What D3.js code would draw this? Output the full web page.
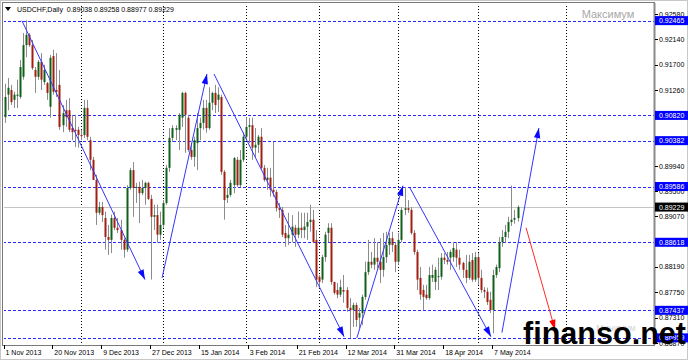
<!DOCTYPE html>
<html>
<head>
<meta charset="utf-8">
<script src="https://cdn.jsdelivr.net/npm/d3@7"></script>
<style>
  body { margin: 0; background: #fff; }
  text { font-family: "Liberation Sans", Arial, sans-serif; }
</style>
</head>
<body>
<svg id="chart" width="688" height="360"></svg>
<script>
// USDCHF daily bars (one value per bar)
var opens = [
  0.9079,0.9118,0.9126,0.9109,0.9116,0.9114,0.9149,0.9204,0.9222,0.9204,
  0.9161,0.9149,0.9175,0.9140,0.9138,0.9097,0.9185,0.9126,0.9135,0.9065,
  0.9091,0.9091,0.9060,0.9057,0.9057,0.9048,0.9048,0.9095,0.9039,0.9005,
  0.8970,0.8913,0.8923,0.8904,0.8871,0.8866,0.8904,0.8887,0.8883,0.8866,
  0.8849,0.8956,0.8987,0.8956,0.8958,0.8947,0.8956,0.8965,0.8937,0.8906,
  0.8909,0.8875,0.8892,0.8930,0.8991,0.9043,0.9057,0.9057,0.9078,0.9121,
  0.9078,0.9022,0.9010,0.9034,0.9060,0.9069,0.9095,0.9060,0.9104,0.9121,
  0.9109,0.9114,0.8984,0.8939,0.8944,0.8961,0.9005,0.8961,0.9005,0.9045,
  0.9062,0.9065,0.9026,0.9031,0.9045,0.8991,0.8970,0.8974,0.8953,0.8949,
  0.8921,0.8918,0.8878,0.8869,0.8875,0.8887,0.8875,0.8887,0.8883,0.8889,
  0.8897,0.8901,0.8866,0.8802,0.8797,0.8836,0.8878,0.8887,0.8793,0.8779,
  0.8771,0.8779,0.8779,0.8748,0.8744,0.8753,0.8731,0.8739,0.8767,0.8810,
  0.8828,0.8823,0.8835,0.8828,0.8814,0.8836,0.8857,0.8869,0.8857,0.8828,
  0.8866,0.8918,0.8921,0.8918,0.8878,0.8845,0.8800,0.8779,0.8771,0.8765,
  0.8800,0.8793,0.8802,0.8802,0.8835,0.8831,0.8835,0.8836,0.8849,0.8835,
  0.8826,0.8814,0.8800,0.8831,0.8797,0.8836,0.8800,0.8779,0.8776,0.8762,
  0.8744,0.8805,0.8817,0.8862,0.8871,0.8880,0.8897,0.8901,0.89038
];
var highs = [
  0.9137,0.9147,0.9135,0.9123,0.9144,0.9178,0.9225,0.9247,0.9225,0.9213,
  0.9166,0.9178,0.9190,0.9170,0.9140,0.9187,0.9196,0.9190,0.9161,0.9100,
  0.9109,0.9112,0.9083,0.9083,0.9062,0.9057,0.9109,0.9109,0.9045,0.9010,
  0.8979,0.8932,0.8932,0.8915,0.8892,0.8910,0.8915,0.8904,0.8901,0.8869,
  0.8961,0.8991,0.9001,0.8965,0.8967,0.8970,0.8967,0.8967,0.8944,0.8927,
  0.8927,0.8915,0.8935,0.8996,0.9060,0.9065,0.9065,0.9086,0.9123,0.9123,
  0.9083,0.9034,0.9045,0.9086,0.9078,0.9109,0.9109,0.9131,0.9123,0.9135,
  0.9131,0.9118,0.8987,0.8956,0.8970,0.9010,0.9010,0.9022,0.9053,0.9079,
  0.9078,0.9078,0.9060,0.9048,0.9060,0.8996,0.8991,0.8991,0.9036,0.8953,
  0.8930,0.8923,0.8892,0.8913,0.8909,0.8892,0.8915,0.8913,0.8913,0.8913,
  0.8927,0.8918,0.8883,0.8805,0.8840,0.8880,0.8895,0.8895,0.8793,0.8791,
  0.8797,0.8805,0.8784,0.8765,0.8757,0.8757,0.8748,0.8771,0.8828,0.8866,
  0.8845,0.8869,0.8862,0.8869,0.8878,0.8880,0.8878,0.8880,0.8862,0.8878,
  0.8923,0.8958,0.8935,0.8923,0.8883,0.8849,0.8819,0.8788,0.8788,0.8819,
  0.8823,0.8819,0.8835,0.8843,0.8843,0.8845,0.8849,0.8862,0.8862,0.8849,
  0.8828,0.8840,0.8840,0.8843,0.8845,0.8843,0.8814,0.8784,0.8783,0.8776,
  0.8814,0.8823,0.8871,0.8883,0.8892,0.8906,0.8960,0.8918,0.89258
];
var lows = [
  0.9069,0.9091,0.9100,0.9095,0.9095,0.9111,0.9144,0.9183,0.9201,0.9161,
  0.9121,0.9144,0.9126,0.9135,0.9109,0.9078,0.9118,0.9114,0.9057,0.9053,
  0.9062,0.9053,0.9039,0.9027,0.9026,0.9039,0.9043,0.9039,0.8987,0.8970,
  0.8892,0.8909,0.8897,0.8849,0.8840,0.8843,0.8883,0.8878,0.8849,0.8835,
  0.8845,0.8953,0.8906,0.8930,0.8895,0.8944,0.8927,0.8935,0.8797,0.8883,
  0.8861,0.8866,0.8887,0.8927,0.8984,0.9036,0.9039,0.9022,0.9062,0.9017,
  0.9019,0.9005,0.8993,0.8987,0.9039,0.9057,0.9052,0.9057,0.9091,0.9086,
  0.9088,0.8979,0.8901,0.8930,0.8941,0.8947,0.8958,0.8958,0.9001,0.9039,
  0.9034,0.9005,0.9010,0.9017,0.8987,0.8967,0.8953,0.8941,0.8941,0.8915,
  0.8904,0.8871,0.8854,0.8857,0.8862,0.8854,0.8869,0.8869,0.8869,0.8866,
  0.8880,0.8861,0.8784,0.8784,0.8791,0.8828,0.8862,0.8788,0.8771,0.8765,
  0.8767,0.8757,0.8741,0.8696,0.8715,0.8715,0.8713,0.8718,0.8762,0.8805,
  0.8817,0.8814,0.8817,0.8791,0.8802,0.8826,0.8840,0.8845,0.8810,0.8823,
  0.8862,0.8909,0.8913,0.8875,0.8840,0.8779,0.8762,0.8744,0.8762,0.8762,
  0.8793,0.8779,0.8779,0.8797,0.8824,0.8823,0.8814,0.8828,0.8819,0.8814,
  0.8800,0.8791,0.8797,0.8793,0.8793,0.8788,0.8774,0.8765,0.8753,0.8739,
  0.8704,0.8800,0.8810,0.8854,0.8861,0.8869,0.8890,0.8894,0.88977
];
var closes = [
  0.9114,0.9130,0.9105,0.9118,0.9118,0.9166,0.9204,0.9222,0.9204,0.9164,
  0.9149,0.9175,0.9144,0.9161,0.9121,0.9182,0.9123,0.9123,0.9062,0.9086,
  0.9079,0.9057,0.9053,0.9055,0.9048,0.9046,0.9095,0.9045,0.9005,0.8970,
  0.8913,0.8923,0.8909,0.8871,0.8866,0.8904,0.8887,0.8883,0.8866,0.8849,
  0.8956,0.8987,0.8956,0.8958,0.8947,0.8956,0.8965,0.8937,0.8906,0.8909,
  0.8875,0.8892,0.8930,0.8991,0.9043,0.9060,0.9060,0.9083,0.9121,0.9083,
  0.9022,0.9010,0.9039,0.9060,0.9069,0.9095,0.9060,0.9104,0.9121,0.9100,
  0.9118,0.8984,0.8935,0.8944,0.8965,0.9008,0.8961,0.9005,0.9045,0.9062,
  0.9065,0.9026,0.9031,0.9045,0.8991,0.8970,0.8974,0.8953,0.8949,0.8921,
  0.8918,0.8875,0.8869,0.8875,0.8889,0.8875,0.8887,0.8883,0.8889,0.8897,
  0.8901,0.8862,0.8797,0.8793,0.8836,0.8875,0.8887,0.8793,0.8774,0.8771,
  0.8784,0.8776,0.8748,0.8744,0.8753,0.8727,0.8739,0.8767,0.8810,0.8828,
  0.8823,0.8835,0.8828,0.8814,0.8836,0.8857,0.8869,0.8857,0.8828,0.8866,
  0.8918,0.8921,0.8918,0.8878,0.8845,0.8797,0.8771,0.8767,0.8765,0.8805,
  0.8805,0.8814,0.8803,0.8835,0.8831,0.8828,0.8845,0.8852,0.8835,0.8823,
  0.8814,0.8800,0.8828,0.8797,0.8836,0.8800,0.8779,0.8776,0.8758,0.8744,
  0.8805,0.8819,0.8862,0.8871,0.8880,0.8897,0.8901,0.8904,0.89229
];

// price scale labels (right, the ones not hidden by level boxes) and date labels (every 16 bars)
var priceTicks = ["0.92580","0.92140","0.91700","0.91260","0.89940",
                  "0.89500","0.89070","0.88190","0.87750","0.87310","0.86870"];
var dateLabels = ["1 Nov 2013","20 Nov 2013","9 Dec 2013","27 Dec 2013","15 Jan 2014","3 Feb 2014",
                  "21 Feb 2014","12 Mar 2014","31 Mar 2014","18 Apr 2014","7 May 2014"];
var dateBars = [0,16,32,48,64,80,96,112,128,144,160];
var gridBars = [25,52,79,103,129,155,184];

// horizontal levels and the current bid
var levels = [0.92465,0.90820,0.90382,0.89586,0.88618,0.87437,0.86959];
var bid = 0.89229;

// wave arrows: start bar/price -> end bar/price
var waveStartBar   = [5.7, 51.6, 68.6, 115.4, 132.8, 162.9];
var waveStartPrice = [0.92465, 0.8800, 0.9154, 0.86959, 0.8956, 0.8705];
var waveEndBar     = [46.0, 66.3, 111.2, 130.5, 159.3, 175.0];
var waveEndPrice   = [0.8797, 0.9154, 0.8698, 0.8960, 0.8698, 0.9060];
var redStart = [170.8, 0.8887], redEnd = [180.3, 0.8710];

var W = 688, H = 360;
var pL = 3, pR = 654, pT = 3, pB = 345;

var svg = d3.select('#chart');

var x = d3.scaleLinear().domain([0, 168]).range([4.5, 517.5]);
var y = d3.scaleLinear().domain([0.86870, 0.92580]).range([343, 14]);

svg.append('rect').attr('width', W).attr('height', H).attr('fill', '#fff');

svg.append('defs').append('clipPath').attr('id', 'clip')
  .append('rect').attr('x', pL + 1).attr('y', pT + 1)
  .attr('width', pR - pL - 1).attr('height', pB - pT - 1);

var plot = svg.append('g').attr('clip-path', 'url(#clip)');

// vertical dotted grid
plot.selectAll('line.grid').data(gridBars).enter().append('line')
  .attr('x1', d => Math.round(x(d)) + 0.5).attr('x2', d => Math.round(x(d)) + 0.5)
  .attr('y1', pT).attr('y2', pB)
  .attr('stroke', '#000').attr('stroke-dasharray', '1,2');

// bid line
plot.append('line')
  .attr('x1', pL).attr('x2', pR)
  .attr('y1', Math.round(y(bid)) + 0.5).attr('y2', Math.round(y(bid)) + 0.5)
  .attr('stroke', '#c4c4c4');

// level lines
plot.selectAll('line.level').data(levels).enter().append('line')
  .attr('x1', pL).attr('x2', pR)
  .attr('y1', d => Math.round(y(d)) + 0.5).attr('y2', d => Math.round(y(d)) + 0.5)
  .attr('stroke', '#2a2aff').attr('stroke-dasharray', '3,2');

// candles
var bars = d3.range(opens.length);
plot.selectAll('line.wick').data(bars).enter().append('line')
  .attr('x1', i => Math.round(x(i)) + 0.5).attr('x2', i => Math.round(x(i)) + 0.5)
  .attr('y1', i => y(highs[i])).attr('y2', i => y(lows[i]))
  .attr('stroke', '#8c8c8c');

plot.selectAll('rect.body').data(bars).enter().append('rect')
  .attr('x', i => Math.round(x(i)) - 0.5)
  .attr('width', 2)
  .attr('y', i => y(Math.max(opens[i], closes[i])))
  .attr('height', i => Math.max(1, Math.abs(y(opens[i]) - y(closes[i]))))
  .attr('fill', i => closes[i] >= opens[i] ? '#10601a' : '#a11f10');

// arrows
function arrow(x1, y1, x2, y2, col, headCol) {
  plot.append('line').attr('x1', x1).attr('y1', y1).attr('x2', x2).attr('y2', y2)
    .attr('stroke', col).attr('stroke-width', 1);
  var dx = x2 - x1, dy = y2 - y1, len = Math.sqrt(dx * dx + dy * dy);
  var ux = dx / len, uy = dy / len, bx = x2 - ux * 10, by = y2 - uy * 10;
  plot.append('path')
    .attr('d', 'M' + x2 + ',' + y2 + 'L' + (bx - uy * 3.2) + ',' + (by + ux * 3.2) +
               'L' + (bx + uy * 3.2) + ',' + (by - ux * 3.2) + 'Z')
    .attr('fill', headCol);
}
waveStartBar.forEach(function(b, k) {
  arrow(x(b), y(waveStartPrice[k]), x(waveEndBar[k]), y(waveEndPrice[k]), '#3434ff', '#0a0aff');
});
arrow(x(redStart[0]), y(redStart[1]), x(redEnd[0]), y(redEnd[1]), '#ff2a2a', '#ff0000');

// frames
svg.append('rect').attr('x', 0.5).attr('y', 0.5).attr('width', W - 1).attr('height', H - 1)
  .attr('fill', 'none').attr('stroke', '#c8c8c8');
svg.append('rect').attr('x', pL - 0.5).attr('y', pT - 0.5)
  .attr('width', pR - pL + 1).attr('height', pB - pT + 1)
  .attr('fill', 'none').attr('stroke', '#7a7a7a');
svg.append('line').attr('x1', pR + 0.5).attr('x2', pR + 0.5).attr('y1', pT).attr('y2', pB)
  .attr('stroke', '#8a8a8a').attr('stroke-width', 2);

// price axis
var pa = svg.append('g');
pa.selectAll('line.tick').data(priceTicks).enter().append('line')
  .attr('x1', pR + 1).attr('x2', pR + 4)
  .attr('y1', d => Math.round(y(+d)) + 0.5).attr('y2', d => Math.round(y(+d)) + 0.5)
  .attr('stroke', '#000');
pa.selectAll('text.tick').data(priceTicks).enter().append('text')
  .attr('x', pR + 5).attr('y', d => y(+d) + 2.5)
  .attr('font-size', 7).attr('fill', '#000').text(d => d);

var fmt = d3.format('.5f');
levels.forEach(function(v) {
  pa.append('rect').attr('x', pR + 1).attr('y', y(v) - 4.5).attr('width', W - pR - 1).attr('height', 9)
    .attr('fill', '#0000ff');
  pa.append('text').attr('x', pR + 5).attr('y', y(v) + 2.5)
    .attr('font-size', 7).attr('fill', '#fff').text(fmt(v));
});
pa.append('rect').attr('x', pR + 1).attr('y', y(bid) - 4.5).attr('width', W - pR - 1).attr('height', 9)
  .attr('fill', '#000');
pa.append('text').attr('x', pR + 5).attr('y', y(bid) + 2.5)
  .attr('font-size', 7).attr('fill', '#fff').text(fmt(bid));

// date axis
var da = svg.append('g');
da.selectAll('line').data(dateBars).enter().append('line')
  .attr('x1', d => Math.round(x(d)) - 0.5).attr('x2', d => Math.round(x(d)) - 0.5)
  .attr('y1', pB).attr('y2', pB + 4).attr('stroke', '#000');
da.selectAll('text').data(dateLabels).enter().append('text')
  .attr('x', (d, k) => x(dateBars[k]) + 1).attr('y', 355)
  .attr('font-size', 7).attr('fill', '#000').text(d => d);

// title
var last = opens.length - 1;
svg.append('path').attr('d', 'M5,7L11,7L8,11Z').attr('fill', '#000');
svg.append('text').attr('x', 17).attr('y', 11.5).attr('font-size', 7).attr('fill', '#000')
  .attr('xml:space', 'preserve')
  .text('USDCHF,Daily  ' + [opens[last], highs[last], lows[last], closes[last]].map(fmt).join(' '));

// watermarks
svg.append('text').attr('x', 608).attr('y', 18).attr('text-anchor', 'middle')
  .attr('font-size', 11).attr('fill', '#a8a8a8').text('Максимум');
svg.append('text').attr('x', 616).attr('y', 331).attr('text-anchor', 'middle')
  .attr('font-size', 9).attr('fill', '#d4d4d4').text('Минимум');
svg.append('text').attr('x', 523).attr('y', 344)
  .attr('font-size', 31).attr('font-weight', 'bold').attr('fill', '#000')
  .attr('textLength', 163).attr('lengthAdjust', 'spacingAndGlyphs')
  .text('finanso.net');
</script>
</body>
</html>
